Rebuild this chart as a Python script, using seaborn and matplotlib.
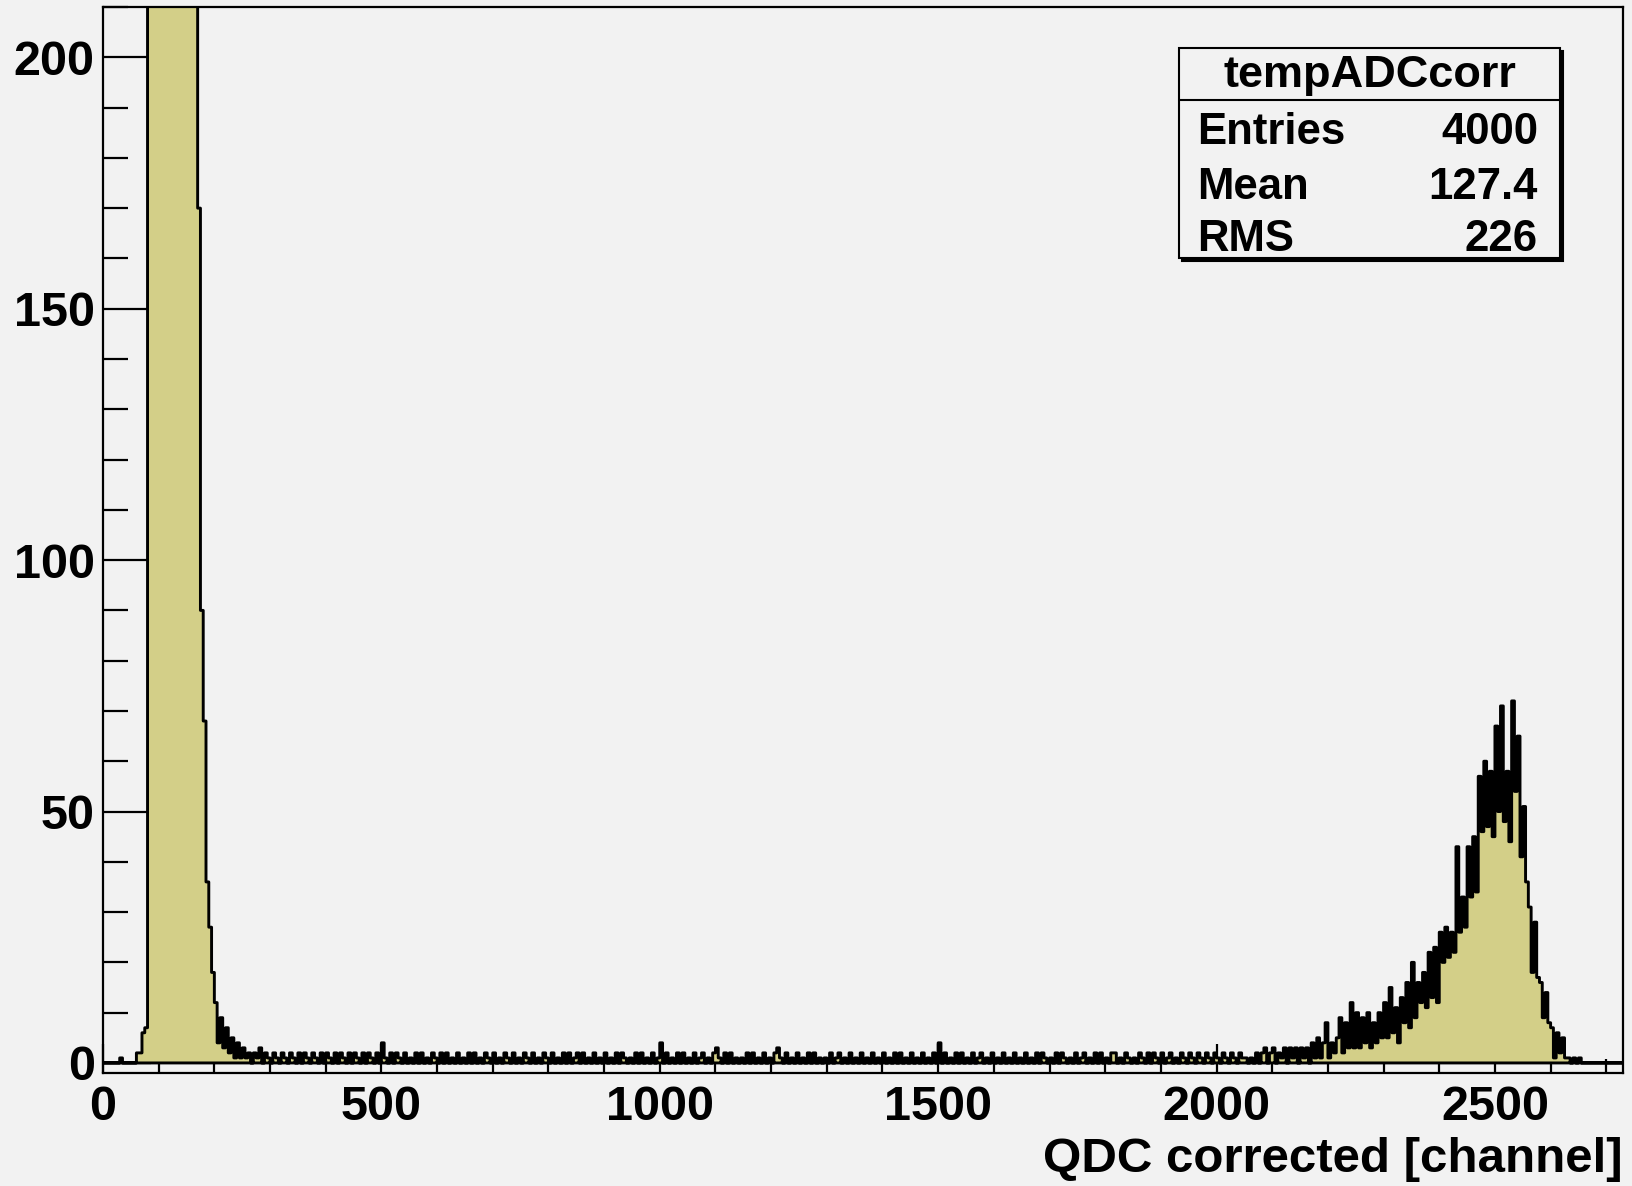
import numpy as np
import pandas as pd
import matplotlib
matplotlib.use("Agg")
import matplotlib.pyplot as plt
from matplotlib.patches import Rectangle
from matplotlib.lines import Line2D
from matplotlib.ticker import MultipleLocator
import seaborn as sns

# ---- histogram contents (5-channel bins from 0 to 2730) ----
BIN_WIDTH = 5

# 0 .. 245 : pedestal region (central bins run far above the plotted range)
counts_low = [0, 0, 0, 0, 0, 0,
              1, 0, 0, 0, 0, 0,
              2, 2, 6, 7,
              240, 420, 610, 780, 900, 960, 980, 950, 880, 790,
              690, 590, 500, 420, 360, 310, 270, 235,
              170, 90, 68, 36, 27, 18, 12, 4, 9, 3, 7, 2, 5, 1, 4, 1]

# 250 .. 2045 : flat background
counts_flat = [
    3, 1, 2, 0, 2, 1, 3, 0, 2, 1, 0, 2, 1, 0, 2, 1, 0, 2, 1, 0,
    2, 0, 2, 1, 0, 2, 1, 0, 2, 0, 2, 1, 0, 2, 0, 2, 1, 0, 2, 0,
    2, 1, 0, 2, 0, 2, 1, 0, 2, 0, 4, 1, 0, 2, 0, 2, 1, 0, 2, 0,
    1, 0, 2, 0, 2, 0, 1, 0, 2, 1, 0, 2, 0, 2, 0, 1, 0, 2, 0, 1,
    0, 2, 0, 2, 0, 1, 0, 2, 1, 0, 2, 0, 1, 0, 2, 1, 0, 2, 0, 1,
    0, 2, 1, 0, 2, 0, 1, 0, 2, 1, 0, 2, 0, 1, 0, 2, 0, 2, 0, 1,
    2, 0, 2, 0, 1, 0, 2, 0, 1, 0, 2, 0, 1, 0, 2, 0, 2, 1, 0, 1,
    0, 2, 0, 2, 0, 1, 0, 2, 0, 1, 4, 0, 2, 0, 1, 0, 2, 0, 2, 0,
    1, 0, 2, 0, 1, 2, 0, 1, 0, 2, 3, 1, 0, 2, 0, 2, 0, 1, 0, 1,
    0, 2, 0, 2, 0, 1, 0, 2, 0, 1, 0, 2, 3, 1, 0, 2, 0, 1, 0, 2,
    0, 1, 0, 2, 0, 2, 0, 1, 0, 1, 0, 2, 0, 1, 2, 0, 1, 0, 2, 0,
    1, 0, 2, 0, 1, 0, 2, 0, 1, 0, 2, 0, 1, 0, 2, 0, 2, 0, 1, 0,
    2, 0, 1, 0, 2, 0, 1, 0, 2, 0, 4, 0, 2, 0, 1, 0, 2, 0, 2, 0,
    1, 0, 2, 0, 1, 2, 0, 1, 0, 2, 0, 1, 0, 2, 0, 1, 0, 2, 0, 1,
    0, 2, 0, 1, 0, 2, 0, 2, 1, 0, 1, 0, 2, 0, 2, 1, 0, 1, 0, 2,
    0, 1, 2, 0, 1, 0, 2, 0, 2, 0, 1, 0, 2, 2, 0, 1, 0, 2, 1, 0,
    1, 0, 2, 1, 0, 2, 0, 2, 1, 0, 2, 0, 1, 2, 0, 1, 0, 2, 1, 0,
    2, 1, 0, 2, 1, 0, 2, 1, 0, 2, 1, 0, 2, 1, 0, 2, 1, 0, 2, 1,
]

# 2050 .. 2655 : signal peak
counts_high = [
    1, 0, 1, 0, 2, 0, 2, 3, 0, 2,
    3, 0, 2, 1, 3, 0, 3, 1, 3, 0,
    3, 1, 3, 0, 4, 1, 5, 1, 4, 8,
    1, 4, 2, 5, 9, 2, 8, 3, 12, 3,
    10, 3, 9, 4, 10, 3, 8, 4, 10, 5,
    12, 5, 15, 6, 11, 4, 13, 8, 16, 7,
    20, 9, 16, 12, 18, 11, 22, 13, 23, 12,
    26, 20, 27, 21, 26, 22, 43, 26, 33, 27,
    43, 33, 45, 34, 57, 46, 60, 47, 58, 45,
    67, 50, 71, 48, 58, 44, 72, 54, 65, 41,
    51, 36, 31, 18, 28, 17, 16, 9, 14, 8,
    7, 1, 6, 2, 5, 1, 1, 0, 1, 0,
    1, 0,
]

# 2660 .. 2725 : empty
counts_end = [0] * 14

stats_title = "tempADCcorr"
stats_labels = ["Entries", "Mean", "RMS"]
stats_values = ["4000", "127.4", "226"]

x_ticks = [0, 500, 1000, 1500, 2000, 2500]
y_ticks = [0, 50, 100, 150, 200]
x_label = "QDC corrected [channel]"

# ---- assemble ----
counts = np.array(counts_low + counts_flat + counts_high + counts_end, dtype=float)
n_bins = len(counts)
x_end = n_bins * BIN_WIDTH
df = pd.DataFrame({"channel": np.arange(n_bins) * BIN_WIDTH + BIN_WIDTH / 2,
                   "count": counts})

BG = "#f2f2f2"
FILL = "#d3cf88"
W, H = 1632, 1186

sns.set_style("ticks")
plt.rcParams["font.family"] = ["Liberation Sans", "DejaVu Sans"]
plt.rcParams["font.weight"] = "bold"
plt.rcParams["text.color"] = "black"
plt.rcParams["axes.labelcolor"] = "black"
plt.rcParams["xtick.color"] = "black"
plt.rcParams["ytick.color"] = "black"

fig = plt.figure(figsize=(W / 100, H / 100), dpi=100, facecolor=BG)
ax = fig.add_axes([103 / W, 1 - 1073 / H, (1623 - 103) / W, (1073 - 7) / H])
ax.set_facecolor(BG)

sns.histplot(data=df, x="channel", weights="count",
             binwidth=BIN_WIDTH, binrange=(0, x_end),
             element="step", fill=True, color=FILL, edgecolor="black",
             linewidth=2.1, alpha=1, ax=ax)

ax.set_xlim(0, x_end)
ax.set_ylim(-2, 210)
ax.set_xlabel("")
ax.set_ylabel("")
ax.set_xticks(x_ticks)
ax.set_yticks(y_ticks)
ax.xaxis.set_minor_locator(MultipleLocator(100))
ax.yaxis.set_minor_locator(MultipleLocator(10))

ax.tick_params(axis="x", which="major", direction="in", length=21, width=1.6,
               pad=9, labelsize=35, colors="black")
ax.tick_params(axis="x", which="minor", direction="in", length=10, width=1.6)
ax.tick_params(axis="y", which="major", direction="in", length=34.5, width=1.6,
               pad=6, labelsize=35, colors="black")
ax.tick_params(axis="y", which="minor", direction="in", length=18, width=1.6)
for lab in ax.get_xticklabels() + ax.get_yticklabels():
    lab.set_fontweight("bold")
for sp in ax.spines.values():
    sp.set_visible(True)
    sp.set_linewidth(1.6)
    sp.set_color("black")

fig.text(1623 / W, 1 - 1172 / H, x_label, ha="right", va="baseline",
         fontsize=35.5, fontweight="bold", color="black")

# ---- statistics box ----
def fx(x):
    return x / W


def fy(y):
    return 1 - y / H


bx0, bx1, by0, by1 = 1179, 1560, 48, 258
fig.add_artist(Rectangle((fx(bx0 + 3), fy(by1 + 3)), fx(bx1 - bx0), (by1 - by0) / H,
                         transform=fig.transFigure, facecolor="black",
                         edgecolor="black", lw=1.5, zorder=5))
fig.add_artist(Rectangle((fx(bx0), fy(by1)), fx(bx1 - bx0), (by1 - by0) / H,
                         transform=fig.transFigure, facecolor=BG,
                         edgecolor="black", lw=1.5, zorder=6))
fig.add_artist(Line2D([fx(bx0), fx(bx1)], [fy(100), fy(100)],
                      transform=fig.transFigure, color="black", lw=1.5, zorder=7))
fig.text(fx((bx0 + bx1) / 2), fy(87), stats_title, ha="center", va="baseline",
         fontsize=32.5, fontweight="bold", color="black", zorder=8)
for lab, val, base in zip(stats_labels, stats_values, [144, 199, 251]):
    fig.text(fx(1197), fy(base), lab, ha="left", va="baseline",
             fontsize=31.5, fontweight="bold", color="black", zorder=8)
    fig.text(fx(1538), fy(base), val, ha="right", va="baseline",
             fontsize=31.5, fontweight="bold", color="black", zorder=8)

fig.savefig("out.png", dpi=100, facecolor=BG)
